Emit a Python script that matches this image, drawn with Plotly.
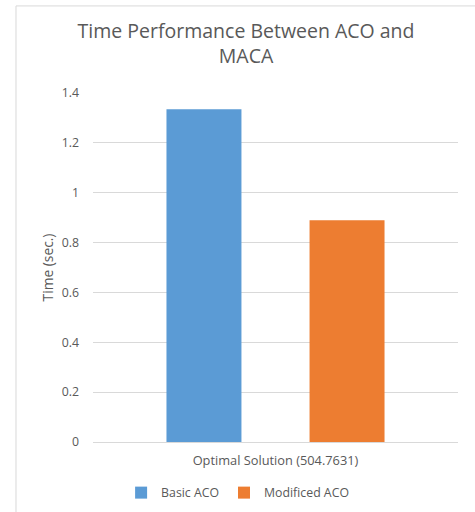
import plotly.graph_objects as go

categories = ["Optimal Solution (504.7631)"]
series_names = ["Basic ACO", "Modificed ACO"]
basic_aco = [1.335]
modified_aco = [0.89]
colors = ["#5B9BD5", "#ED7D31"]

font_family = "'Open Sans', sans-serif"
grey = "#595959"

fig = go.Figure()
for name, vals, col in zip(series_names, [basic_aco, modified_aco], colors):
    fig.add_trace(go.Bar(x=categories, y=vals, name=name, marker_color=col,
                         marker_line_width=0))

fig.update_layout(
    width=475, height=512,
    margin=dict(l=93, r=17, t=93, b=70, autoexpand=False),
    paper_bgcolor="white", plot_bgcolor="white",
    barmode="group", bargap=0.216, bargroupgap=0.476,
    font=dict(family=font_family, color=grey, size=12),
    title=dict(text="Time Performance Between ACO and<br>MACA",
               x=0.518, xanchor="center", y=0.926, yanchor="top",
               font=dict(size=19.5, color=grey, family=font_family)),
    showlegend=True,
    legend=dict(orientation="h", x=0.077, xanchor="left", y=-0.1035, yanchor="top",
                font=dict(size=12.3, color=grey), itemwidth=30, traceorder="normal"),
    xaxis=dict(showgrid=False, showline=True, linecolor="#d9d9d9", linewidth=1,
               ticks="", tickfont=dict(size=12.8, color=grey), ticklabelstandoff=7,
               automargin=False),
    yaxis=dict(range=[0, 1.4], dtick=0.2, showgrid=True, gridcolor="#d9d9d9",
               gridwidth=1, zeroline=False, showline=False, ticks="",
               tickfont=dict(size=12.3, color=grey), ticklabelstandoff=13,
               automargin=False,
               title=dict(text="Time (sec.)", font=dict(size=13.8, color=grey), standoff=4)),
    shapes=[
        dict(type="line", xref="paper", yref="paper", x0=-0.211, x1=1.1,
             y0=1.2495, y1=1.2495, line=dict(color="#d9d9d9", width=1)),
        dict(type="line", xref="paper", yref="paper", x0=-0.211, x1=-0.211,
             y0=1.2495, y1=-0.3, line=dict(color="#d9d9d9", width=1)),
    ],
)

fig.write_html("out.html", config={"displayModeBar": False},
               post_script="document.body.style.margin='0';")
